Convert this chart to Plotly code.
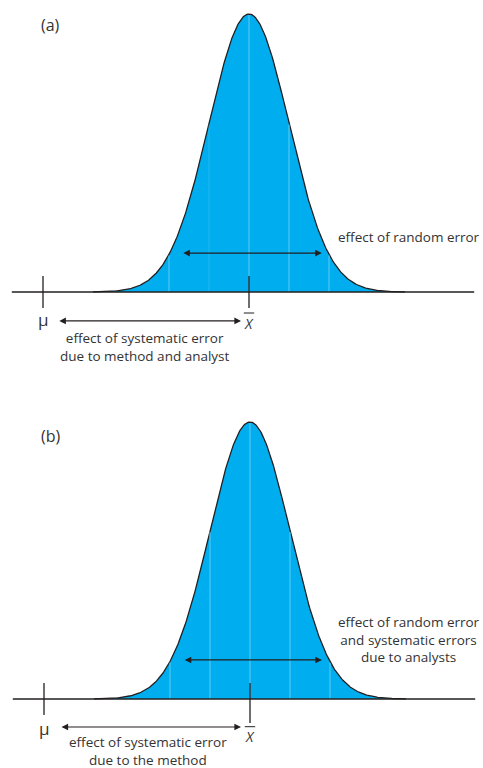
import numpy as np
import plotly.graph_objects as go

# both panels share one shape: x in units of sigma, X-bar at 0
panels = ["(a)", "(b)"]
mu_pos = [-5.15, -5.15]
sigma_marks = [-2, -1, 0, 1, 2]
random_arrow = [(-1.68, 1.82), (-1.67, 1.8)]
random_arrow_y = [0.14, 0.141]
random_text = ["effect of random error",
               "effect of random error<br>and systematic errors<br>due to analysts"]
random_text_xy = [(4.0, 0.198), (3.975, 0.2166)]
sys_arrow = [(-4.78, -0.2), (-4.75, -0.225)]
sys_text = ["effect of systematic error<br>due to method and analyst",
            "effect of systematic error<br>due to the method"]
sys_text_xy = [(-2.6, -0.196), (-2.55, -0.188)]
xranges = [[-6.225, 5.85], [-6.25, 5.825]]
yranges = [[-0.3309, 1.0504], [-0.2491, 1.1372]]
ydomains = [[0.5, 1.0], [0.0, 0.5]]
baseline = (-5.93, 5.63)
tail = 3.9

blue = "#00AEEF"
faint = "#5FCBF2"
ink = "#231F20"
txt = "#333333"
font = "Open Sans"

x = np.linspace(-tail, tail, 400)
pdf = np.exp(-0.5 * x ** 2)

fig = go.Figure()
shapes = []
annotations = []

for i in range(2):
    xa = "x" if i == 0 else "x2"
    ya = "y" if i == 0 else "y2"

    fig.add_trace(go.Scatter(x=x, y=pdf, mode="lines", fill="tozeroy",
                             fillcolor=blue, line=dict(color=ink, width=1.3),
                             xaxis=xa, yaxis=ya, hoverinfo="skip", showlegend=False))

    for s in sigma_marks:
        op = 0.35 if (i == 0 and s == -1) else 1.0
        shapes.append(dict(type="line", xref=xa, yref=ya, x0=s, x1=s, y0=0,
                           y1=float(np.exp(-0.5 * s * s)) - 0.004,
                           line=dict(color=faint, width=1), opacity=op, layer="above"))

    # baseline
    shapes.append(dict(type="line", xref=xa, yref=ya, x0=baseline[0], x1=baseline[1],
                       y0=0, y1=0, line=dict(color=ink, width=1.3), layer="above"))
    # ticks at mu and x-bar
    lo_c = -0.0576 if i == 0 else -0.0866
    shapes.append(dict(type="line", xref=xa, yref=ya, x0=0, x1=0, y0=0.0576, y1=lo_c,
                       line=dict(color=ink, width=1.3), layer="above"))
    shapes.append(dict(type="line", xref=xa, yref=ya, x0=mu_pos[i], x1=mu_pos[i],
                       y0=0.0576, y1=-0.0576, line=dict(color=ink, width=1.3), layer="above"))
    # overline on X
    ob = -0.0755 if i == 0 else -0.1
    shapes.append(dict(type="line", xref=xa, yref=ya, x0=-0.13, x1=0.13, y0=ob, y1=ob,
                       line=dict(color=ink, width=1), layer="above"))

    # arrows
    for (a0, a1), ay in [(random_arrow[i], random_arrow_y[i]), (sys_arrow[i], -0.104 if i == 0 else -0.101)]:
        annotations.append(dict(xref=xa, yref=ya, axref=xa, ayref=ya, x=a1, y=ay, ax=a0, ay=ay,
                                text="", showarrow=True, arrowhead=2, arrowside="end+start",
                                arrowsize=1.1, arrowwidth=1.2, arrowcolor=ink))

    annotations.append(dict(xref=xa, yref=ya, x=random_text_xy[i][0], y=random_text_xy[i][1],
                            text=random_text[i], showarrow=False, xanchor="center", yanchor="middle",
                            font=dict(family=font, size=13.5, color=txt)))
    annotations.append(dict(xref=xa, yref=ya, x=sys_text_xy[i][0], y=sys_text_xy[i][1],
                            text=sys_text[i], showarrow=False, xanchor="center", yanchor="middle",
                            font=dict(family=font, size=13.5, color=txt)))
    annotations.append(dict(xref=xa, yref=ya, x=mu_pos[i], y=-0.1 if i == 0 else -0.108,
                            text="\u03bc", showarrow=False, xanchor="center", yanchor="middle",
                            font=dict(family=font, size=17, color=txt)))
    annotations.append(dict(xref=xa, yref=ya, x=0, y=-0.113 if i == 0 else -0.135,
                            text="<i>X</i>", showarrow=False, xanchor="center", yanchor="middle",
                            font=dict(family=font, size=14, color=txt)))
    annotations.append(dict(xref=xa, yref=ya, x=-4.975, y=0.96 if i == 0 else 0.949,
                            text=panels[i], showarrow=False, xanchor="center", yanchor="middle",
                            font=dict(family=font, size=16, color=txt)))

axis_style = dict(visible=False, showgrid=False, zeroline=False, fixedrange=True)
fig.update_layout(
    width=483, height=768,
    margin=dict(l=0, r=0, t=0, b=0),
    paper_bgcolor="white", plot_bgcolor="white",
    xaxis=dict(range=xranges[0], domain=[0, 1], anchor="y", **axis_style),
    yaxis=dict(range=yranges[0], domain=ydomains[0], anchor="x", **axis_style),
    xaxis2=dict(range=xranges[1], domain=[0, 1], anchor="y2", **axis_style),
    yaxis2=dict(range=yranges[1], domain=ydomains[1], anchor="x2", **axis_style),
    shapes=shapes,
    annotations=annotations,
    showlegend=False,
)

# the page's default body margin would push the figure 8px off
fig.write_html("out.html", config={"displayModeBar": False},
               post_script="document.body.style.margin='0';")
